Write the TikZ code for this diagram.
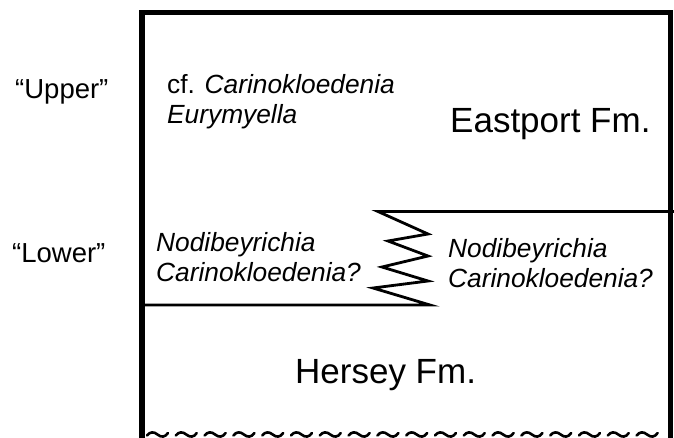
\documentclass[tikz,border=0pt]{standalone}
\usepackage{fontspec}
\setmainfont{Liberation Sans}
\begin{document}
\begin{tikzpicture}[x=1pt,y=-1pt,
  lab/.style={inner sep=0pt,anchor=base west,font=\fontsize{26.3}{30}\selectfont},
  side/.style={inner sep=0pt,anchor=base west,font=\fontsize{27.5}{30}\selectfont},
  big/.style={inner sep=0pt,anchor=base west,font=\fontsize{35}{40}\selectfont},
  contact/.style={line width=2.8pt,line join=miter},
  frame/.style={line width=5.5pt,line join=miter},
  wave/.style={line width=2.6pt,line cap=round}]
\useasboundingbox (0,0) rectangle (674,437);
\fill[white] (0,0) rectangle (674,437);
% frame
\coordinate (fbl) at (142,440);
\coordinate (ftl) at (142,12.5);
\coordinate (ftr) at (670.5,12.5);
\coordinate (fbr) at (670.5,440);
\draw[frame] (fbl) -- (ftl) -- (ftr) -- (fbr);
% contacts with interfingering zigzag
\coordinate (ul) at (378,211.5);
\coordinate (ur) at (674,211.5);
\coordinate (z1) at (428,234);
\coordinate (z2) at (388,241);
\coordinate (z3) at (428,256);
\coordinate (z4) at (382,267);
\coordinate (z5) at (428,281);
\coordinate (z6) at (373,288);
\coordinate (lr) at (430,305);
\coordinate (ll) at (142,305);
\draw[contact] (ur) -- (ul) -- (z1) -- (z2) -- (z3) -- (z4) -- (z5) -- (z6) -- (lr) -- (ll);
% unconformity at base
\foreach \i in {0,...,17}{
  \pgfmathsetmacro{\xx}{147+28.8*\i}
  \draw[wave] (\xx,435.5) .. controls (\xx+3,431.5) and (\xx+7,431.5) .. (\xx+10.5,434.5)
     .. controls (\xx+14,437.5) and (\xx+18,437.5) .. (\xx+21,433);
}
% labels
\node[side] (up) at (15,98) {“Upper”};
\node[side] (lo) at (12,262) {“Lower”};
\node[lab] (cf) at (167,93) {cf. \textit{Carinokloedenia}};
\node[lab] (eu) at (167,123) {\textit{Eurymyella}};
\node[big] (ef) at (450,132) {Eastport Fm.};
\node[lab] (n1) at (156,251) {\textit{Nodibeyrichia}};
\node[lab] (c1) at (156,281) {\textit{Carinokloedenia?}};
\node[lab] (n2) at (448,257) {\textit{Nodibeyrichia}};
\node[lab] (c2) at (448,287) {\textit{Carinokloedenia?}};
\node[big] (hf) at (295,383) {Hersey Fm.};
\end{tikzpicture}
\end{document}
